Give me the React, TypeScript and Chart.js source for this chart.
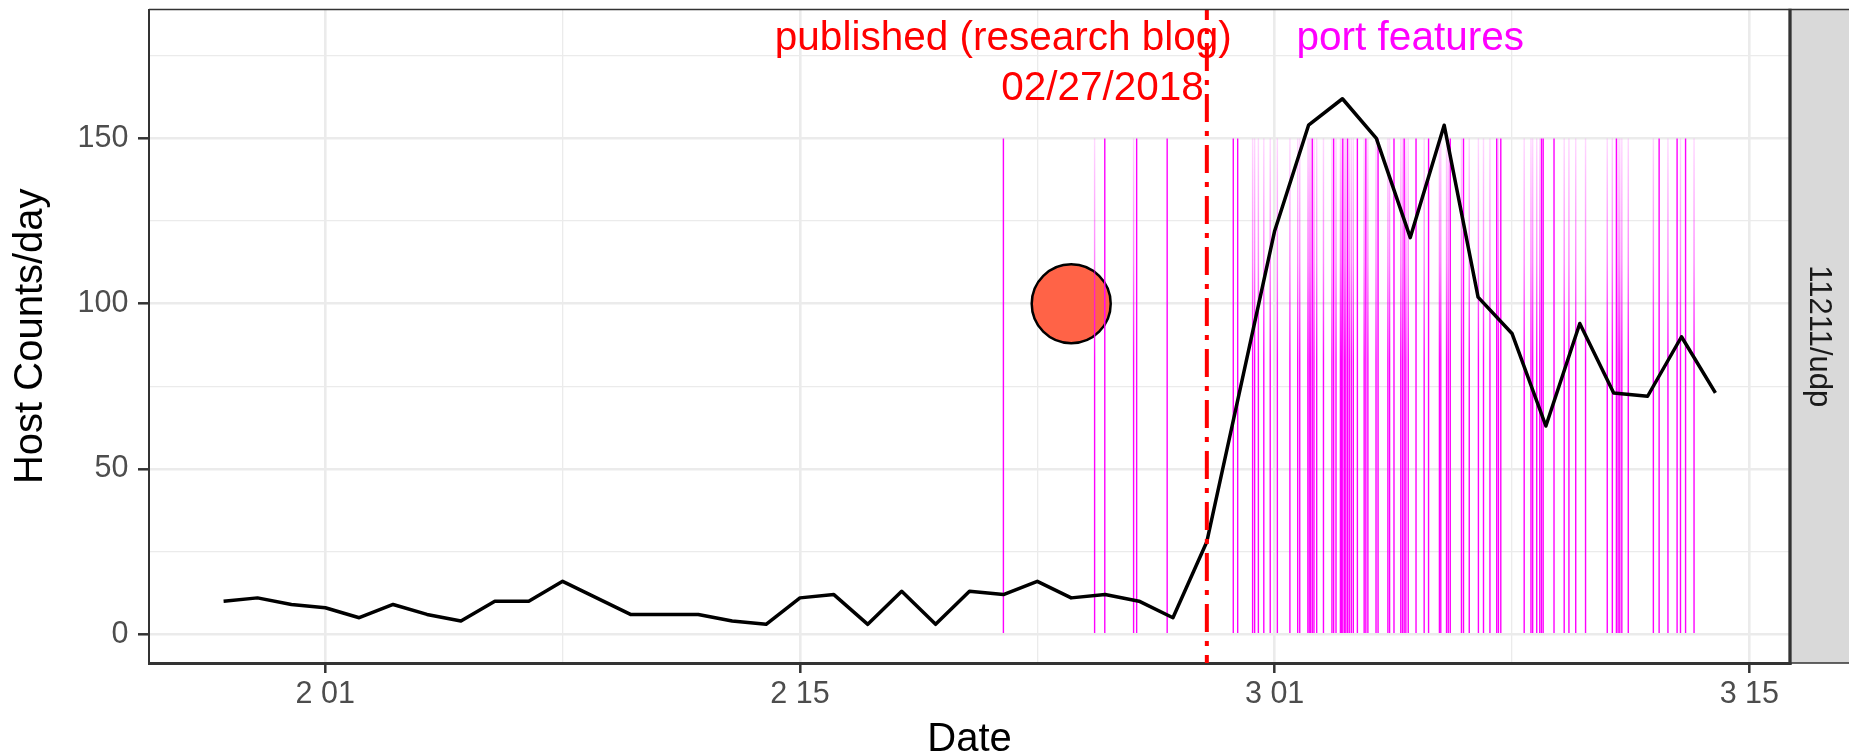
import React, { useEffect, useRef } from 'react';
import { Chart, registerables } from 'chart.js';

Chart.register(...registerables);

const FONT = '"Liberation Sans", Arial, Helvetica, sans-serif';

// ---- data ----
const hostDates = [
  '2018-01-29', '2018-01-30', '2018-01-31',
  '2018-02-01', '2018-02-02', '2018-02-03', '2018-02-04', '2018-02-05', '2018-02-06', '2018-02-07',
  '2018-02-08', '2018-02-09', '2018-02-10', '2018-02-11', '2018-02-12', '2018-02-13', '2018-02-14',
  '2018-02-15', '2018-02-16', '2018-02-17', '2018-02-18', '2018-02-19', '2018-02-20', '2018-02-21',
  '2018-02-22', '2018-02-23', '2018-02-24', '2018-02-25', '2018-02-26', '2018-02-27', '2018-02-28',
  '2018-03-01', '2018-03-02', '2018-03-03', '2018-03-04', '2018-03-05', '2018-03-06', '2018-03-07',
  '2018-03-08', '2018-03-09', '2018-03-10', '2018-03-11', '2018-03-12', '2018-03-13', '2018-03-14',
];
const hostCounts = [
  10, 11, 9,
  8, 5, 9, 6, 4, 10, 10,
  16, 11, 6, 6, 6, 4, 3,
  11, 12, 3, 13, 3, 13, 12,
  16, 11, 12, 10, 5, 28, 75,
  122, 154, 162, 150, 120, 154, 102,
  91, 63, 94, 73, 72, 90, 73,
];

// port feature events, in days since 2018-02-01 00:00
const featureDaysSolid = [
  20.0, 22.99, 23.93, 24.83, 26.78, 26.91, 29.11, 29.74, 30.01, 30.15, 30.44, 30.69, 31.05,
  31.52, 31.82, 32.17, 32.54, 33.18, 33.57, 34.55, 34.67, 35.87, 35.92, 36.24, 38.08, 39.34,
  39.87, 40.12,
];
const featureDaysFaded = [
  22.69, 23.84, 27.35, 27.41, 27.52, 27.68, 27.87, 28.08, 28.45, 28.68, 28.74, 28.98, 29.02,
  29.06, 29.16, 29.24, 29.44, 29.69, 29.81, 29.94, 29.97, 30.06, 30.1, 30.2, 30.26, 30.32,
  30.64, 30.75, 30.99, 31.34, 31.39, 31.72, 31.77, 31.87, 31.94, 32.41, 32.86, 32.9, 33.07,
  33.12, 33.51, 33.74, 34.01, 34.16, 34.35, 34.6, 35.36, 35.56, 35.61, 35.73, 35.82, 36.54,
  36.68, 36.88, 37.17, 37.81, 37.96, 38.13, 38.18, 38.24, 38.43, 39.17, 39.6, 39.97, 40.37,
];
const featureRange = [0, 150];

const blogDate = '2018-02-27';
const blogLabelLines = ['published (research blog)', '02/27/2018'];
const portLabel = 'port features';
const portLabelDate = '2018-03-05';
const labelValue = 180;

const highlightDate = '2018-02-23';
const highlightValue = 100;

const xTickDays = [0, 14, 28, 42];
const xTickLabels = ['2 01', '2 15', '3 01', '3 15'];
const xMinorDays = [7, 21, 35];
const yTickValues = [0, 50, 100, 150];
const yMinorValues = [25, 75, 125, 175];
const xRange = [-5.2, 43.2];
const yRange = [-8.7, 189];

const stripLabel = '11211/udp';
const xTitle = 'Date';
const yTitle = 'Host Counts/day';

// ---- helpers ----
const BASE = Date.UTC(2018, 1, 1);
const dayOf = (s: string) => {
  const [y, m, d] = s.split('-').map(Number);
  return (Date.UTC(y, m - 1, d) - BASE) / 86400000;
};

const GRID = '#EBEBEB';
const AXIS = '#333333';

const decorPlugin = {
  id: 'decor',
  afterDatasetsDraw(chart: any) {
    const { ctx, scales } = chart;
    const x = scales.x;
    const y = scales.y;
    ctx.save();
    ctx.font = `40.5px ${FONT}`;
    ctx.textBaseline = 'middle';
    const bx = x.getPixelForValue(dayOf(blogDate));
    const ty = y.getPixelForValue(labelValue);
    ctx.fillStyle = '#FF0000';
    ctx.textAlign = 'right';
    ctx.fillText(blogLabelLines[0], bx + 25, ty);
    ctx.fillText(blogLabelLines[1], bx - 3, ty + 50);
    ctx.fillStyle = '#FF00FF';
    ctx.textAlign = 'center';
    ctx.fillText(portLabel, x.getPixelForValue(dayOf(portLabelDate)), ty);
    ctx.restore();
  },
  afterDraw(chart: any) {
    const { ctx, chartArea } = chart;
    const { left, right, top, bottom } = chartArea;
    const W = chart.width;
    ctx.save();
    // facet strip
    ctx.fillStyle = '#D9D9D9';
    ctx.fillRect(right, top, W - right, bottom - top);
    ctx.strokeStyle = AXIS;
    ctx.lineWidth = 1.5;
    ctx.beginPath();
    ctx.moveTo(left, top);
    ctx.lineTo(W, top);
    ctx.moveTo(right, bottom);
    ctx.lineTo(W, bottom);
    ctx.stroke();
    ctx.lineWidth = 3.3;
    ctx.beginPath();
    ctx.moveTo(right, top - 0.75);
    ctx.lineTo(right, bottom + 1.5);
    ctx.stroke();
    ctx.translate(right + 29, (top + bottom) / 2);
    ctx.rotate(Math.PI / 2);
    ctx.font = `31px ${FONT}`;
    ctx.fillStyle = '#1A1A1A';
    ctx.textAlign = 'center';
    ctx.textBaseline = 'middle';
    ctx.fillText(stripLabel, 0, 0);
    ctx.restore();
  },
};

export default function App() {
  const ref = useRef<HTMLCanvasElement>(null);

  useEffect(() => {
    const canvas = ref.current;
    if (!canvas) return;

    const featureColor = (c: any) => {
      if (c.raw && c.raw.solid) return '#FF00FF';
      const chart = c.chart;
      const ys = chart.scales.y;
      if (!ys || !chart.chartArea) return '#FF00FF';
      const g = chart.ctx.createLinearGradient(
        0, ys.getPixelForValue(featureRange[1]), 0, ys.getPixelForValue(featureRange[0]),
      );
      g.addColorStop(0, 'rgba(255,0,255,0.15)');
      g.addColorStop(0.25, 'rgba(255,0,255,0.5)');
      g.addColorStop(0.45, 'rgba(255,0,255,1)');
      g.addColorStop(1, 'rgba(255,0,255,1)');
      return g;
    };

    const featureData = [
      ...featureDaysSolid.map((d) => ({ x: d, y: featureRange, solid: true })),
      ...featureDaysFaded.map((d) => ({ x: d, y: featureRange, solid: false })),
    ];

    const chart = new Chart(canvas, {
      type: 'line',
      data: {
        datasets: [
          {
            type: 'line',
            order: 0,
            data: [
              { x: dayOf(blogDate), y: yRange[1] },
              { x: dayOf(blogDate), y: yRange[0] },
            ],
            borderColor: '#FF0000',
            borderWidth: 4,
            borderDash: [28, 9, 5, 9],
            borderDashOffset: 17.5,
            borderCapStyle: 'butt',
            pointRadius: 0,
            fill: false,
          } as any,
          {
            type: 'line',
            order: 1,
            data: hostDates.map((d, i) => ({ x: dayOf(d), y: hostCounts[i] })),
            borderColor: '#000000',
            borderWidth: 3.5,
            borderJoinStyle: 'round',
            tension: 0,
            pointRadius: 0,
            fill: false,
          } as any,
          {
            type: 'bar',
            order: 2,
            data: featureData as any,
            barThickness: 1.4,
            inflateAmount: 0,
            borderWidth: 0,
            backgroundColor: featureColor,
          } as any,
          {
            type: 'line',
            order: 3,
            showLine: false,
            data: [{ x: dayOf(highlightDate), y: highlightValue }],
            pointRadius: 39.5,
            pointBackgroundColor: '#FF6347',
            pointBorderColor: '#000000',
            pointBorderWidth: 2.5,
          } as any,
        ],
      },
      options: {
        animation: false,
        responsive: false,
        events: [],
        layout: { autoPadding: false, padding: { top: 9.5, right: 59, bottom: 0, left: 0 } },
        plugins: { legend: { display: false }, tooltip: { enabled: false } },
        scales: {
          x: {
            type: 'linear',
            min: xRange[0],
            max: xRange[1],
            offset: false,
            afterBuildTicks: (s: any) => {
              s.ticks = [...xTickDays, ...xMinorDays].sort((a, b) => a - b).map((v) => ({ value: v }));
            },
            afterFit: (s: any) => {
              s.height = 91;
              s.paddingLeft = 0;
              s.paddingRight = 0;
            },
            ticks: {
              autoSkip: false,
              maxRotation: 0,
              minRotation: 0,
              padding: 3,
              color: '#4D4D4D',
              font: { family: FONT, size: 30.5 },
              callback: (v: any) => {
                const i = xTickDays.indexOf(Number(v));
                return i >= 0 ? xTickLabels[i] : '';
              },
            },
            grid: {
              offset: false,
              color: GRID,
              lineWidth: (c: any) => (xTickDays.includes(c.tick?.value) ? 2.6 : 1.3),
              drawTicks: true,
              tickLength: 10,
              tickWidth: 2.5,
              tickColor: (c: any) => (xTickDays.includes(c.tick?.value) ? AXIS : 'rgba(0,0,0,0)'),
            },
            border: { display: true, color: AXIS, width: 3 },
            title: {
              display: true,
              text: xTitle,
              color: '#000000',
              font: { family: FONT, size: 40, lineHeight: 1 },
              padding: { top: 0, bottom: -5.7 },
            },
          },
          y: {
            type: 'linear',
            min: yRange[0],
            max: yRange[1],
            stacked: false,
            afterBuildTicks: (s: any) => {
              s.ticks = [...yTickValues, ...yMinorValues].sort((a, b) => a - b).map((v) => ({ value: v }));
            },
            afterFit: (s: any) => {
              s.width = 149;
              s.paddingTop = 0;
              s.paddingBottom = 0;
            },
            ticks: {
              autoSkip: false,
              padding: 9.5,
              color: '#4D4D4D',
              font: { family: FONT, size: 30.5 },
              callback: (v: any) => (yTickValues.includes(Number(v)) ? String(v) : ''),
            },
            grid: {
              color: GRID,
              lineWidth: (c: any) => (yTickValues.includes(c.tick?.value) ? 2.6 : 1.3),
              drawTicks: true,
              tickLength: 11,
              tickWidth: 2.5,
              tickColor: (c: any) => (yTickValues.includes(c.tick?.value) ? AXIS : 'rgba(0,0,0,0)'),
            },
            border: { display: true, color: AXIS, width: 2 },
            title: {
              display: true,
              text: yTitle,
              color: '#000000',
              font: { family: FONT, size: 40, lineHeight: 1 },
              padding: { top: 10.5, bottom: 0 },
            },
          },
        },
      } as any,
      plugins: [decorPlugin],
    });

    return () => chart.destroy();
  }, []);

  return (
    <div style={{ position: 'absolute', left: 0, top: 0, width: 1849, height: 754, background: '#FFFFFF' }}>
      <canvas ref={ref} width={1849} height={754} style={{ width: 1849, height: 754, display: 'block' }} />
    </div>
  );
}
